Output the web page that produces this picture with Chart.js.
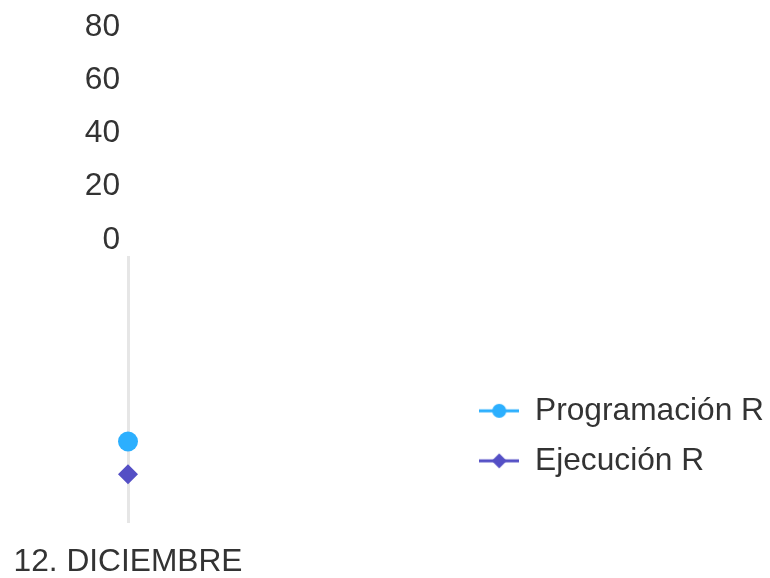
<!DOCTYPE html>
<html>
<head>
<meta charset="utf-8">
<script src="https://cdn.jsdelivr.net/npm/chart.js@4.4.1/dist/chart.umd.min.js"></script>
<style>
html,body{margin:0;padding:0;background:#ffffff;}
#wrap{width:770px;height:578px;position:relative;}
</style>
</head>
<body>
<div id="wrap"><canvas id="c"></canvas></div>
<script>
const categories = ['12. DICIEMBRE'];
const seriesNames = ['Programación R', 'Ejecución R'];
const programacion = [18];
const ejecucion = [7];
const yTickValues = [0, 20, 40, 60, 80];
const seriesColors = ['#2caffe', '#544fc5'];
const seriesMarkers = ['circle', 'rectRot'];

const FONT = {family: "'Liberation Sans', Arial, Helvetica, sans-serif", size: 31.7};
const TEXT = '#333333';
const GRID = '#e6e6e6';

function legendIcon(style, color) {
  const c = document.createElement('canvas');
  c.width = 40; c.height = 20;
  const g = c.getContext('2d');
  g.strokeStyle = color; g.lineWidth = 3;
  g.beginPath(); g.moveTo(0, 10); g.lineTo(40, 10); g.stroke();
  g.fillStyle = color; g.beginPath();
  if (style === 'circle') {
    g.arc(20, 10, 7, 0, Math.PI * 2);
  } else {
    g.moveTo(20, 2.5); g.lineTo(27.5, 10); g.lineTo(20, 17.5); g.lineTo(12.5, 10); g.closePath();
  }
  g.fill();
  return c;
}
const icons = seriesMarkers.map((m, i) => legendIcon(m, seriesColors[i]));

function makeDataset(i, values) {
  return {
    label: seriesNames[i],
    data: values,
    yAxisID: 'y',
    borderColor: seriesColors[i],
    backgroundColor: seriesColors[i],
    borderWidth: 3,
    pointStyle: seriesMarkers[i],
    pointRadius: 10,
    pointHoverRadius: 10,
    pointBorderWidth: 0,
    clip: false
  };
}

new Chart(document.getElementById('c'), {
  type: 'line',
  data: {
    labels: categories,
    datasets: [makeDataset(0, programacion), makeDataset(1, ejecucion)]
  },
  options: {
    responsive: true,
    maintainAspectRatio: false,
    animation: false,
    layout: {padding: {top: 22, left: 0, right: -4, bottom: 0}},
    plugins: {
      tooltip: {enabled: false},
      legend: {
        position: 'right',
        align: 'end',
        fullSize: false,
        maxWidth: 400,
        labels: {
          usePointStyle: true,
          pointStyleWidth: 40,
          padding: 18.3,
          color: TEXT,
          font: FONT,
          generateLabels(chart) {
            const items = Chart.defaults.plugins.legend.labels.generateLabels(chart);
            items.forEach((it, i) => { it.pointStyle = icons[i]; it.fontColor = TEXT; });
            return items;
          }
        }
      }
    },
    scales: {
      x: {
        type: 'category',
        offset: false,
        grid: {display: true, drawOnChartArea: false, drawTicks: true, tickLength: 28, tickWidth: 3, tickColor: GRID, color: GRID, lineWidth: 3},
        border: {display: false},
        ticks: {color: TEXT, font: FONT, padding: 20, maxRotation: 0, autoSkip: false},
        afterFit(s) { s.height = 83; s.paddingLeft = 0; s.paddingRight = 0; }
      },
      yTicks: {
        type: 'linear', position: 'left', stack: 'left', stackWeight: 215, weight: 3,
        display: true, min: 0, max: 80,
        afterBuildTicks(s) { s.ticks = yTickValues.map(v => ({value: v})); },
        grid: {display: false, drawTicks: false},
        border: {display: false},
        ticks: {color: TEXT, font: FONT, padding: 8, autoSkip: false},
        afterFit(s) { s.width = 128; }
      },
      gap: {
        type: 'linear', position: 'left', stack: 'left', stackWeight: 17.5, weight: 2,
        display: true, min: 0, max: 1,
        grid: {display: false, drawTicks: false},
        border: {display: false},
        ticks: {display: false}
      },
      y: {
        type: 'linear', position: 'left', stack: 'left', stackWeight: 240, weight: 1,
        min: 0, max: 80,
        grid: {display: false, drawTicks: false},
        border: {display: true, color: GRID, width: 3},
        ticks: {display: false}
      }
    }
  }
});
</script>
</body>
</html>
